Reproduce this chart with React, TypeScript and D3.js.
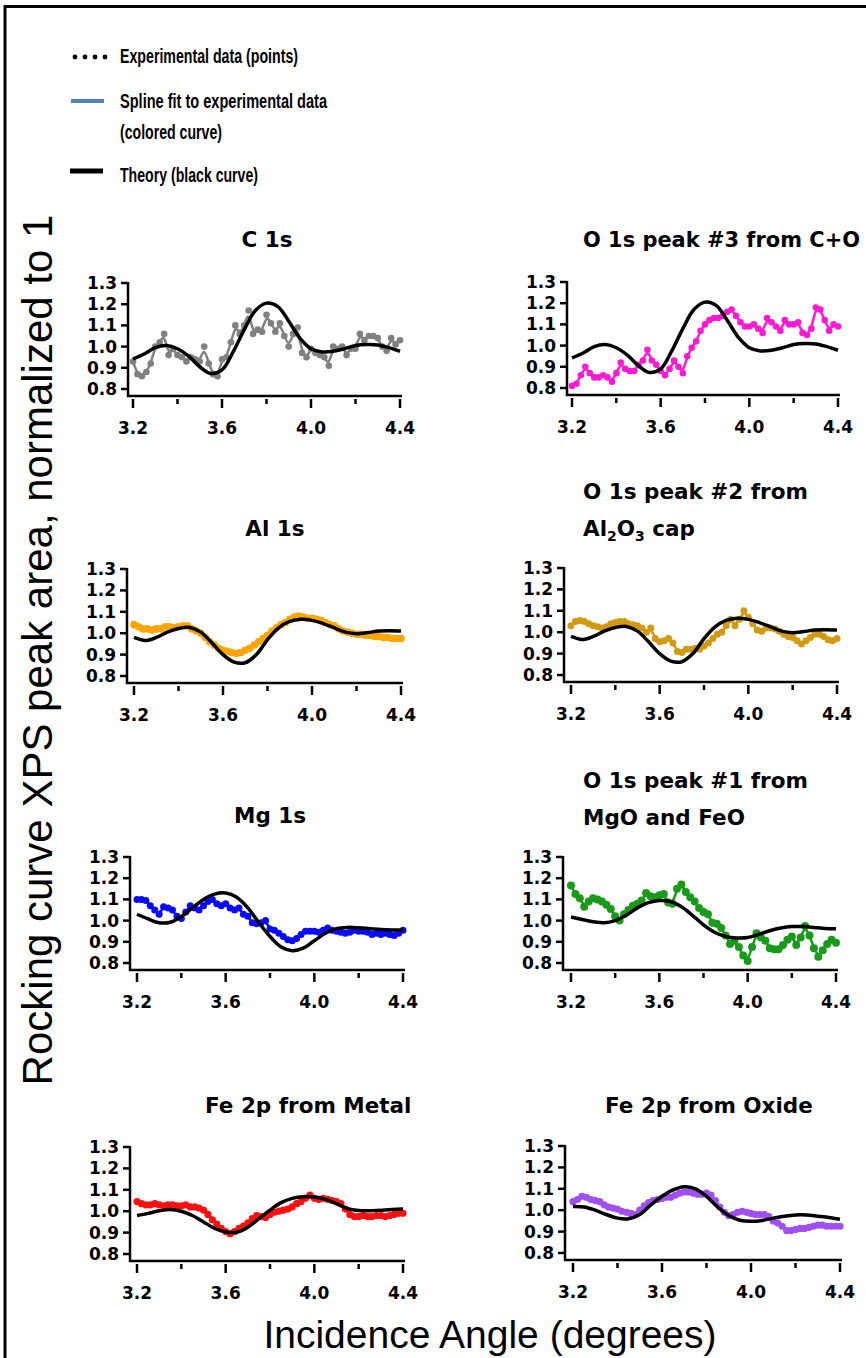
import React from "react";
import * as d3 from "d3";

// sample angles of the measured rocking curves (degrees)
const ANGLES = [
  3.2, 3.22, 3.24, 3.26, 3.28, 3.3, 3.32, 3.34, 3.36, 3.38, 3.4, 3.42, 3.44, 3.46, 3.48,
  3.5, 3.52, 3.54, 3.56, 3.58, 3.6, 3.62, 3.64, 3.66, 3.68, 3.7, 3.72, 3.74, 3.76, 3.78,
  3.8, 3.82, 3.84, 3.86, 3.88, 3.9, 3.92, 3.94, 3.96, 3.98, 4.0, 4.02, 4.04, 4.06, 4.08,
  4.1, 4.12, 4.14, 4.16, 4.18, 4.2, 4.22, 4.24, 4.26, 4.28, 4.3, 4.32, 4.34, 4.36, 4.38, 4.4,
];
// angles where the theory curves are sampled
const THEORY_ANGLES = [
  3.2, 3.25, 3.3, 3.35, 3.4, 3.45, 3.5, 3.55, 3.6, 3.65, 3.7, 3.75, 3.8, 3.85, 3.9,
  3.95, 4.0, 4.05, 4.1, 4.15, 4.2, 4.25, 4.3, 4.35, 4.4,
];
const X_TICKS = [3.2, 3.6, 4.0, 4.4];
const X_MINOR = [3.4, 3.8, 4.2];
const Y_TICKS = [0.8, 0.9, 1.0, 1.1, 1.2, 1.3];

// experimental data
const c1s = [
  0.93, 0.87, 0.86, 0.88, 0.92, 1.0, 1.02, 1.06, 0.96, 0.99, 0.96, 0.95, 0.93, 0.95, 0.94,
  0.93, 1.0, 0.92, 0.87, 0.86, 0.94, 0.95, 1.02, 1.1, 1.06, 1.1, 1.17, 1.06, 1.08, 1.07,
  1.15, 1.11, 1.07, 1.11, 1.05, 1.0, 1.06, 1.09, 0.97, 0.95, 0.99, 0.97, 0.96, 0.95, 0.91,
  1.0, 0.99, 1.0, 0.96, 0.99, 0.99, 1.06, 1.03, 1.05, 1.05, 1.04, 1.0, 0.98, 1.04, 1.01, 1.03,
];
const o1sPeak3 = [
  0.81, 0.82, 0.86, 0.9, 0.87, 0.85, 0.85, 0.86, 0.85, 0.83, 0.87, 0.92, 0.89, 0.88, 0.88,
  0.91, 0.93, 0.98, 0.93, 0.91, 0.88, 0.86, 0.89, 0.93, 0.9, 0.87, 0.95, 0.99, 1.02, 1.07,
  1.1, 1.12, 1.13, 1.13, 1.14, 1.16, 1.17, 1.14, 1.11, 1.09, 1.09, 1.1, 1.08, 1.06, 1.13,
  1.11, 1.09, 1.07, 1.12, 1.1, 1.1, 1.11, 1.06, 1.05, 1.08, 1.18, 1.17, 1.12, 1.07, 1.1, 1.09,
];
const al1s = [
  1.04, 1.03, 1.02, 1.02, 1.015, 1.02, 1.02, 1.03, 1.03, 1.025, 1.03, 1.035, 1.035, 1.02, 1.01,
  1.0, 0.98, 0.96, 0.945, 0.93, 0.92, 0.915, 0.91, 0.905, 0.91, 0.92, 0.93, 0.945, 0.96, 0.975,
  0.99, 1.01, 1.025, 1.04, 1.05, 1.065, 1.075, 1.08, 1.075, 1.07, 1.07, 1.065, 1.06, 1.05, 1.04,
  1.035, 1.02, 1.01, 1.005, 1.0, 0.995, 0.995, 0.99, 0.99, 0.985, 0.985, 0.98, 0.98, 0.975, 0.975, 0.975,
];
const o1sPeak2 = [
  1.03, 1.05, 1.055, 1.05, 1.04, 1.03, 1.025, 1.02, 1.025, 1.04, 1.045, 1.05, 1.05, 1.04, 1.035,
  1.03, 1.02, 1.0, 1.02, 0.97, 0.955, 0.96, 0.97, 0.95, 0.91, 0.905, 0.92, 0.92, 0.925, 0.92,
  0.935, 0.95, 0.97, 0.99, 1.0, 1.03, 1.06, 1.03, 1.06, 1.1, 1.07, 1.04, 1.01, 1.005, 1.02,
  1.02, 1.015, 1.005, 0.99, 0.98, 0.975, 0.96, 0.945, 0.96, 0.975, 0.99, 0.99, 0.98, 0.965, 0.96, 0.97,
];
const mg1s = [
  1.1, 1.1, 1.095, 1.07, 1.05, 1.03, 1.065, 1.06, 1.05, 1.02, 1.01, 1.04, 1.07, 1.06, 1.05,
  1.07, 1.09, 1.1, 1.08, 1.07, 1.08, 1.06, 1.05, 1.06, 1.03, 1.02, 0.99, 0.985, 0.99, 1.0,
  0.96, 0.955, 0.94, 0.925, 0.91, 0.905, 0.915, 0.935, 0.95, 0.95, 0.95, 0.945, 0.955, 0.965, 0.955,
  0.95, 0.945, 0.94, 0.945, 0.955, 0.95, 0.95, 0.945, 0.935, 0.94, 0.935, 0.94, 0.935, 0.93, 0.94, 0.955,
];
const o1sPeak1 = [
  1.165, 1.125, 1.105, 1.065, 1.09, 1.105, 1.1, 1.09, 1.075, 1.055, 1.02, 1.0, 1.03, 1.05, 1.07,
  1.08, 1.095, 1.13, 1.115, 1.11, 1.12, 1.125, 1.085, 1.08, 1.15, 1.17, 1.135, 1.11, 1.09, 1.06,
  1.04, 1.03, 0.99, 0.985, 0.965, 0.93, 0.89, 0.905, 0.875, 0.835, 0.81, 0.875, 0.94, 0.92, 0.905,
  0.87, 0.865, 0.865, 0.885, 0.91, 0.925, 0.885, 0.92, 0.975, 0.93, 0.87, 0.83, 0.86, 0.89, 0.91, 0.895,
];
const fe2pMetal = [
  1.045, 1.035, 1.03, 1.03, 1.035, 1.03, 1.025, 1.03, 1.03, 1.025, 1.025, 1.03, 1.02, 1.02, 1.015,
  1.005, 0.985, 0.96, 0.94, 0.92, 0.905, 0.895, 0.905, 0.92, 0.93, 0.945, 0.965, 0.98, 0.975, 0.97,
  0.985, 0.995, 1.0, 1.005, 1.01, 1.02, 1.035, 1.045, 1.06, 1.075, 1.06, 1.055, 1.06, 1.055, 1.05,
  1.045, 1.035, 1.01, 0.985, 0.975, 0.975, 0.98, 0.975, 0.975, 0.98, 0.98, 0.975, 0.98, 0.985, 0.99, 0.99,
];
const fe2pOxide = [
  1.04, 1.05, 1.065, 1.06, 1.05, 1.045, 1.04, 1.025, 1.015, 1.01, 1.005, 0.995, 0.99, 0.985, 0.98,
  1.0, 1.02, 1.035, 1.045, 1.05, 1.055, 1.06, 1.06, 1.07, 1.08, 1.085, 1.085, 1.08, 1.075, 1.075,
  1.08, 1.07, 1.045, 1.015, 0.99, 0.975, 0.98, 0.99, 0.995, 0.99, 0.985, 0.98, 0.98, 0.98, 0.97,
  0.95, 0.94, 0.925, 0.905, 0.905, 0.91, 0.915, 0.915, 0.92, 0.925, 0.93, 0.93, 0.925, 0.925, 0.925, 0.925,
];

// theory curves
const theoryCO = [
  0.942, 0.965, 0.995, 1.005, 0.99, 0.955, 0.905, 0.873, 0.89, 0.975, 1.08, 1.17, 1.205,
  1.19, 1.12, 1.04, 0.99, 0.975, 0.978, 0.99, 1.005, 1.01, 1.008, 0.995, 0.978,
];
const theoryAl = [
  0.98, 0.966, 0.98, 1.005, 1.022, 1.027, 1.005, 0.955, 0.9, 0.865, 0.862, 0.9, 0.97,
  1.025, 1.055, 1.065, 1.06, 1.045, 1.025, 1.005, 0.998, 1.003, 1.01, 1.012, 1.01,
];
const theoryMg = [
  1.03, 1.008, 0.99, 0.992, 1.02, 1.06, 1.1, 1.125, 1.13, 1.11, 1.06, 0.99, 0.925,
  0.875, 0.858, 0.87, 0.905, 0.94, 0.962, 0.968, 0.966, 0.962, 0.958, 0.956, 0.956,
];
const theoryO1 = [
  1.017, 1.005, 0.995, 0.99, 1.0, 1.025, 1.06, 1.085, 1.095, 1.09, 1.065, 1.025, 0.98,
  0.945, 0.925, 0.918, 0.92, 0.935, 0.952, 0.965, 0.972, 0.972, 0.968, 0.963, 0.962,
];
const theoryFeMetal = [
  0.98, 0.99, 1.002, 1.008, 1.0, 0.98, 0.95, 0.92, 0.903, 0.902, 0.925, 0.965, 1.005,
  1.04, 1.06, 1.068, 1.066, 1.055, 1.035, 1.012, 1.003, 1.002, 1.005, 1.008, 1.01,
];
const theoryFeOxide = [
  1.017, 1.015, 1.0, 0.98, 0.963, 0.96, 0.98, 1.025, 1.065, 1.095, 1.11, 1.1, 1.065,
  1.015, 0.975, 0.953, 0.948, 0.952, 0.963, 0.972, 0.978, 0.978, 0.972, 0.966, 0.958,
];

const panels = [
  { title: [["C 1s"]], color: "#808080", exp: c1s, theory: theoryCO, r: 3.3,
    box: { ax: 128, x0: 133, x1: 400, y0: 283, y1: 389, tx: 267, anchor: "middle", ty: 247 } },
  { title: [["O 1s peak #3 from C+O"]], color: "#ff1ad1", exp: o1sPeak3, theory: theoryCO, r: 3.3, fit: 277,
    box: { ax: 567, x0: 572, x1: 838, y0: 282, y1: 388, tx: 583, anchor: "start", ty: 247 } },
  { title: [["Al 1s"]], color: "#ffa500", exp: al1s, theory: theoryAl, r: 3.8,
    box: { ax: 127, x0: 134, x1: 401, y0: 569, y1: 676, tx: 275, anchor: "middle", ty: 536 } },
  { title: [["O 1s peak #2 from"], ["Al", "2", "O", "3", " cap"]], color: "#d29a12", exp: o1sPeak2, theory: theoryAl, r: 3.5,
    box: { ax: 564, x0: 571, x1: 837, y0: 568, y1: 675, tx: 583, anchor: "start", ty: 499 } },
  { title: [["Mg 1s"]], color: "#0a0aff", exp: mg1s, theory: theoryMg, r: 3.5,
    box: { ax: 130, x0: 137, x1: 403, y0: 857, y1: 963, tx: 270, anchor: "middle", ty: 823 } },
  { title: [["O 1s peak #1 from"], ["MgO and FeO"]], color: "#1a9a1a", exp: o1sPeak1, theory: theoryO1, r: 4,
    box: { ax: 563, x0: 571, x1: 836, y0: 857, y1: 963, tx: 583, anchor: "start", ty: 788 } },
  { title: [["Fe 2p from Metal"]], color: "#ff1010", exp: fe2pMetal, theory: theoryFeMetal, r: 3.6,
    box: { ax: 130, x0: 137, x1: 403, y0: 1147, y1: 1254, tx: 205, anchor: "start", ty: 1113 } },
  { title: [["Fe 2p from Oxide"]], color: "#a04ff0", exp: fe2pOxide, theory: theoryFeOxide, r: 3.6,
    box: { ax: 565, x0: 573, x1: 840, y0: 1146, y1: 1253, tx: 605, anchor: "start", ty: 1113 } },
];

const tickFont = "'DejaVu Sans', sans-serif";
const fmt = d3.format(".1f");

function Panel({ p }) {
  const b = p.box;
  const x = d3.scaleLinear().domain([3.2, 4.4]).range([b.x0, b.x1]);
  const y = d3.scaleLinear().domain([0.8, 1.3]).range([b.y1, b.y0]);
  const pts = ANGLES.map((a, i) => [a, p.exp[i]]);
  const th = THEORY_ANGLES.map((a, i) => [a, p.theory[i]]);
  const spline = d3.line().x(d => x(d[0])).y(d => y(d[1])).curve(d3.curveBasis);
  const theory = d3.line().x(d => x(d[0])).y(d => y(d[1])).curve(d3.curveCatmullRom);
  const base = b.y1 + 7;
  return (
    <g>
      {p.title.map((line, li) => (
        <text key={li} x={b.tx} y={b.ty + li * 37} textAnchor={b.anchor} fontFamily={tickFont} fontWeight="bold" fontSize={21.5}
          {...(p.fit ? { textLength: p.fit, lengthAdjust: "spacingAndGlyphs" } : {})}>
          {line.length === 1 ? line[0] : line.map((s, si) =>
            si % 2 === 1 && si < 4
              ? <tspan key={si} fontSize={14} dy={5}>{s}</tspan>
              : <tspan key={si} dy={si === 0 ? 0 : -5}>{s}</tspan>)}
        </text>
      ))}
      <path d={`M${b.ax},${y(1.3) - 1}V${base}H${b.x1 + 2}`} fill="none" stroke="#000" strokeWidth={2.5} />
      {Y_TICKS.map(t => (
        <g key={t}>
          <line x1={b.ax - 7} x2={b.ax} y1={y(t)} y2={y(t)} stroke="#000" strokeWidth={2.5} />
          <text x={b.ax - 11} y={y(t) + 6} textAnchor="end" fontFamily={tickFont} fontWeight="bold" fontSize={17}>{fmt(t)}</text>
        </g>
      ))}
      {X_TICKS.map(t => (
        <g key={t}>
          <line x1={x(t)} x2={x(t)} y1={base + 3} y2={base + 12} stroke="#000" strokeWidth={2.5} />
          <text x={x(t)} y={b.y1 + 45} textAnchor="middle" fontFamily={tickFont} fontWeight="bold" fontSize={17}>{fmt(t)}</text>
        </g>
      ))}
      {X_MINOR.map(t => (
        <line key={t} x1={x(t)} x2={x(t)} y1={base + 3} y2={base + 8} stroke="#000" strokeWidth={2.5} />
      ))}
      {pts.map((d, i) => (
        <circle key={i} cx={x(d[0])} cy={y(d[1])} r={p.r} fill={p.color} />
      ))}
      <path d={spline(pts)} fill="none" stroke={p.color} strokeWidth={2.5} />
      <path d={theory(th)} fill="none" stroke="#000" strokeWidth={3.5} />
    </g>
  );
}

export default function App() {
  const legendFont = "'Liberation Sans', Arial, sans-serif";
  return (
    <div style={{ position: "absolute", left: 0, top: 0 }}>
      <svg width={866} height={1358} style={{ display: "block", background: "#fff" }}>
        <rect x={5} y={6.5} width={900} height={1400} fill="none" stroke="#000" strokeWidth={3} />
        {/* legend */}
        {[75, 85, 95, 105].map(cx => <circle key={cx} cx={cx} cy={57} r={2.4} fill="#000" />)}
        <line x1={71} x2={104} y1={101} y2={101} stroke="#4f81bd" strokeWidth={4} />
        <line x1={70} x2={103} y1={171} y2={171} stroke="#000" strokeWidth={5} />
        <g fontFamily={legendFont} fontWeight="bold" fontSize={21}>
          <text x={120} y={63} textLength={178} lengthAdjust="spacingAndGlyphs">Experimental data (points)</text>
          <text x={120} y={108} textLength={207} lengthAdjust="spacingAndGlyphs">Spline fit to experimental data</text>
          <text x={120} y={139} textLength={102} lengthAdjust="spacingAndGlyphs">(colored curve)</text>
          <text x={120} y={182} textLength={138} lengthAdjust="spacingAndGlyphs">Theory (black curve)</text>
        </g>
        {panels.map((p, i) => <Panel key={i} p={p} />)}
        <text x={490} y={1348} textAnchor="middle" fontFamily="'Liberation Sans', Arial, sans-serif" fontSize={39}>
          Incidence Angle (degrees)
        </text>
        <text transform="translate(52,650) rotate(-90)" textAnchor="middle" fontFamily="'Liberation Sans', Arial, sans-serif" fontSize={42}>
          Rocking curve XPS peak area, normalized to 1
        </text>
      </svg>
    </div>
  );
}
